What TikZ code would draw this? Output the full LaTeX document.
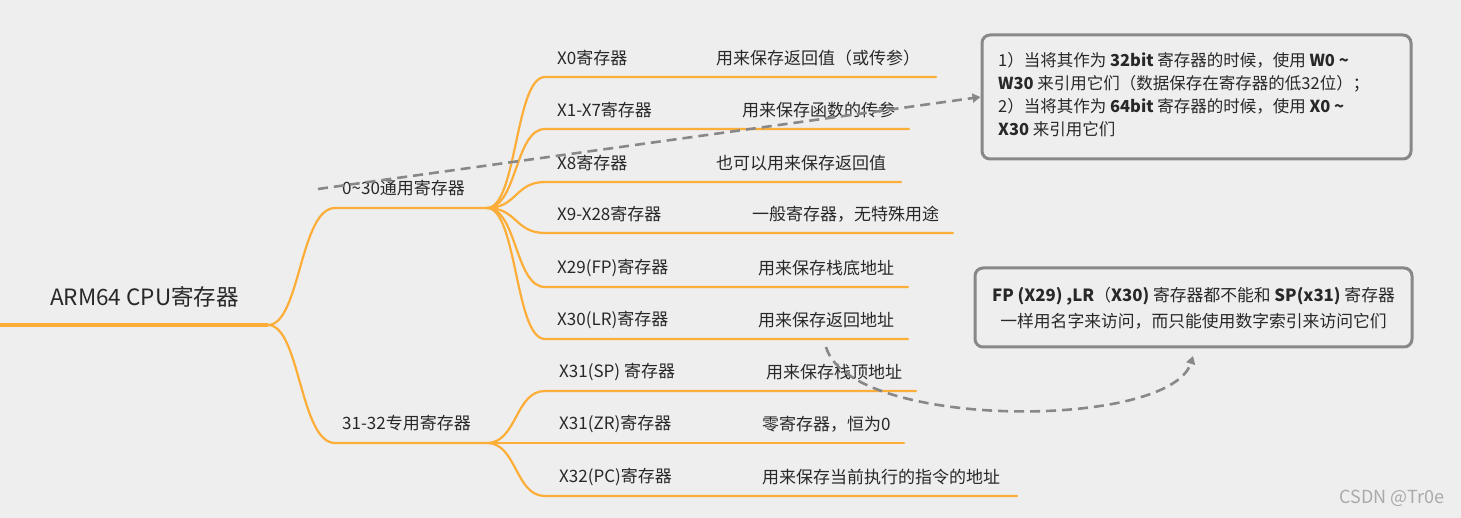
\documentclass[tikz,border=0pt]{standalone}
\usepackage{fontspec}
\setmainfont{Noto Sans CJK SC}
\usetikzlibrary{arrows.meta}
\definecolor{bg}{RGB}{238,238,238}
\definecolor{br}{RGB}{252,174,56}
\definecolor{dg}{RGB}{136,136,136}
\definecolor{tx}{RGB}{40,40,40}
\definecolor{wm}{RGB}{170,170,170}
\begin{document}
\begin{tikzpicture}[x=1pt,y=-1pt,
  branch/.style={draw=br,line width=2.2pt,line cap=round},
  lbl/.style={anchor=west,inner sep=0pt,text=tx,font=\fontsize{17}{19}\selectfont},
  note/.style={draw=dg,line width=3pt,rounded corners=8pt,fill=bg,inner sep=0pt},
  notetext/.style={inner sep=0pt,text=tx,font=\fontsize{16.5}{23}\selectfont},
  link/.style={draw=dg,line width=2.6pt,dash pattern=on 10pt off 6pt,-{Triangle[length=8pt,width=9pt]}}]
\fill[bg] (0,0) rectangle (1461,518);
\useasboundingbox (0,0) rectangle (1461,518);

% root
\coordinate (r0) at (0,325);
\coordinate (rj) at (268,325);
\node[lbl,font=\fontsize{22.5}{25}\selectfont] (root) at (50,297) {ARM64 CPU寄存器};
\draw[branch,line width=3.2pt,line cap=butt] (r0) -- (rj);

% group 1
\coordinate (g0) at (335,208);
\coordinate (gj) at (487,208);
\draw[branch] (rj) .. controls (300,325) and (300,208) .. (g0) -- (gj);
\node[lbl] (g) at (342,188) {0\textasciitilde30通用寄存器};

% group 2
\coordinate (s0) at (335,443);
\coordinate (sj) at (487,443);
\draw[branch] (rj) .. controls (300,325) and (300,443) .. (s0) -- (sj);
\node[lbl] (s) at (342,423) {31-32专用寄存器};

% children of group 1
\foreach \n/\y/\e/\l/\dx/\d in {
  c0/77/936/X0寄存器/716/用来保存返回值（或传参）,
  c1/129/909/X1-X7寄存器/742/用来保存函数的传参,
  c8/182/901/X8寄存器/716/也可以用来保存返回值,
  c9/233/953/X9-X28寄存器/752/一般寄存器，无特殊用途,
  c29/287/908/X29(FP)寄存器/758/用来保存栈底地址,
  c30/339/908/X30(LR)寄存器/758/用来保存返回地址}{
  \coordinate (\n a) at (545,\y);
  \coordinate (\n b) at (\e,\y);
  \draw[branch] (gj) .. controls (517,208) and (515,\y) .. (\n a) -- (\n b);
  \node[lbl] (\n l) at (557,\y-19) {\l};
  \node[lbl] (\n d) at (\dx,\y-19) {\d};
}

% children of group 2
\foreach \n/\y/\e/\l/\dx/\d in {
  sp/391/916/X31(SP) 寄存器/766/用来保存栈顶地址,
  zr/443/904/X31(ZR)寄存器/762/零寄存器，恒为0,
  pc/496/1017/X32(PC)寄存器/762/用来保存当前执行的指令的地址}{
  \coordinate (\n a) at (545,\y);
  \coordinate (\n b) at (\e,\y);
  \draw[branch] (sj) .. controls (517,443) and (515,\y) .. (\n a) -- (\n b);
  \node[lbl] (\n l) at (559,\y-19) {\l};
  \node[lbl] (\n d) at (\dx,\y-19) {\d};
}

% notes
\node[note,minimum width=429pt,minimum height=124pt] (n1) at (1196.5,97) {};
\node[notetext,anchor=west,align=left] (n1t) at (998,95)
 {1）当将其作为 \textbf{32bit} 寄存器的时候，使用 \textbf{W0 \textasciitilde}\\
  \textbf{W30} 来引用它们（数据保存在寄存器的低32位）；\\
  2）当将其作为 \textbf{64bit} 寄存器的时候，使用 \textbf{X0 \textasciitilde}\\
  \textbf{X30} 来引用它们};

\node[note,minimum width=437pt,minimum height=79pt] (n2) at (1193.5,307.5) {};
\node[notetext,align=center,font=\fontsize{16.8}{26}\selectfont] (n2t) at (1193.5,308)
 {\textbf{FP (X29) ,LR}（\textbf{X30)} 寄存器都不能和 \textbf{SP(x31)} 寄存器\\
  一样用名字来访问，而只能使用数字索引来访问它们};

% links
\coordinate (a1s) at (318,189);
\draw[link] (a1s) -- (n1.west);
\coordinate (a2s) at (826,347);
\coordinate (a2e) at (1193,356);
\draw[link] (a2s) .. controls (850,430) and (1170,430) .. (a2e);

% watermark
\node[inner sep=0pt,text=wm,font=\fontsize{18}{20}\selectfont] (wmk) at (1392,498) {CSDN @Tr0e};
\end{tikzpicture}
\end{document}
